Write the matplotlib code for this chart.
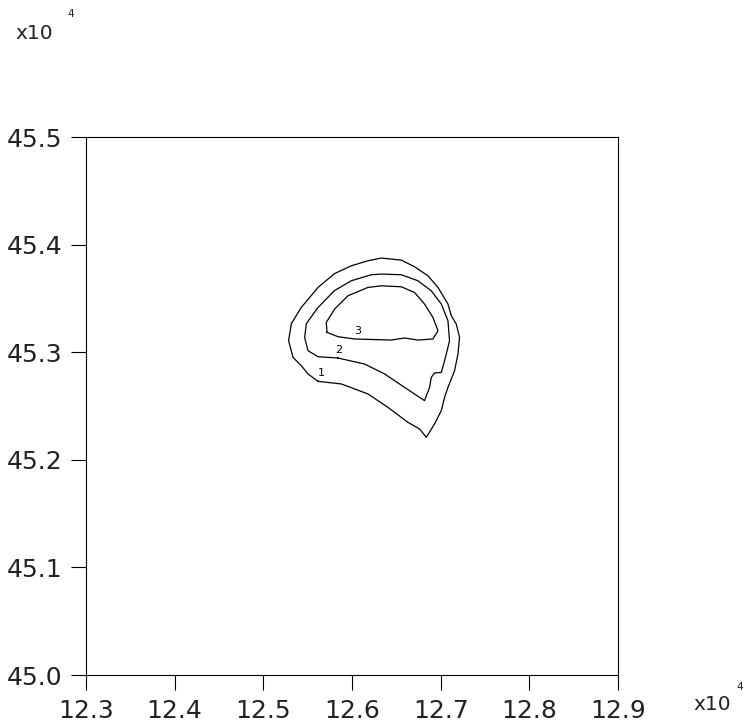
import matplotlib
matplotlib.use('Agg')
import matplotlib.pyplot as plt

plt.rcParams['font.family'] = ['DejaVu Sans']

# contour levels (x, y in units of 1e4)
levels = ['1', '2', '3']

c1_x = [12.5617, 12.5879, 12.6180, 12.6406, 12.6631, 12.6762, 12.6838, 12.6931, 12.7007,
        12.7044, 12.7082, 12.7157, 12.7195, 12.7213, 12.7176, 12.7120, 12.7082, 12.6970,
        12.6857, 12.6706, 12.6556, 12.6330, 12.6180, 12.5992, 12.5800, 12.5617, 12.5428,
        12.5316, 12.5285, 12.5335, 12.5428, 12.5504]
c1_y = [45.2729, 45.2705, 45.2612, 45.2487, 45.2348, 45.2287, 45.2209, 45.2333, 45.2457,
        45.2580, 45.2673, 45.2828, 45.2983, 45.3137, 45.3262, 45.3339, 45.3448, 45.3602,
        45.3710, 45.3794, 45.3856, 45.3875, 45.3850, 45.3803, 45.3729, 45.3602, 45.3416,
        45.3265, 45.3107, 45.2952, 45.2875, 45.2798]

c2_x = [12.5842, 12.6142, 12.6368, 12.6593, 12.6818, 12.6875, 12.6894, 12.6931, 12.7007,
        12.7044, 12.7082, 12.7100, 12.7082, 12.7007, 12.6894, 12.6744, 12.6556, 12.6330,
        12.6218, 12.5992, 12.5800, 12.5617, 12.5485, 12.5466, 12.5504, 12.5617]
c2_y = [45.2946, 45.2890, 45.2798, 45.2673, 45.2550, 45.2673, 45.2766, 45.2807, 45.2812,
        45.2921, 45.3045, 45.3107, 45.3293, 45.3448, 45.3571, 45.3664, 45.3720, 45.3726,
        45.3720, 45.3664, 45.3571, 45.3416, 45.3265, 45.3137, 45.3014, 45.2958]

c3_x = [12.5718, 12.5842, 12.6029, 12.6443, 12.6593, 12.6744, 12.6913, 12.6970, 12.6913,
        12.6818, 12.6706, 12.6556, 12.6330, 12.6180, 12.5955, 12.5804, 12.5710]
c3_y = [45.3184, 45.3144, 45.3123, 45.3113, 45.3132, 45.3113, 45.3123, 45.3200, 45.3323,
        45.3448, 45.3555, 45.3608, 45.3617, 45.3602, 45.3525, 45.3401, 45.3277]

# where the level numbers sit on the lines
label_x = [12.5654, 12.5845, 12.6060]
label_y = [45.2763, 45.2977, 45.3153]

xticks = [12.3, 12.4, 12.5, 12.6, 12.7, 12.8, 12.9]
yticks = [45.0, 45.1, 45.2, 45.3, 45.4, 45.5]

fig = plt.figure(figsize=(7.46, 7.28), dpi=100)
ax = fig.add_axes([0.1153, 0.0728, 0.7131, 0.739])

for xs, ys in [(c1_x, c1_y), (c2_x, c2_y), (c3_x, c3_y)]:
    ax.plot(xs + xs[:1], ys + ys[:1], color='black', lw=0.9)

for lab, lx, ly in zip(levels, label_x, label_y):
    ax.text(lx, ly, lab, fontsize=8, ha='center', va='bottom')

ax.set_xlim(12.3, 12.9)
ax.set_ylim(45.0, 45.5)
ax.set_xticks(xticks)
ax.set_yticks(yticks)
ax.set_xticklabels([f'{v:.1f}' for v in xticks])
ax.set_yticklabels([f'{v:.1f}' for v in yticks])
ax.tick_params(direction='out', length=11, width=0.8, labelsize=18, pad=6,
               labelcolor='#222222')
for s in ax.spines.values():
    s.set_linewidth(0.8)

# scale factors
fig.text(15 / 746, 1 - 39 / 728, 'x10', fontsize=14.5, color='#222222')
fig.text(67 / 746, 1 - 17 / 728, '4', fontsize=7.5, color='#222222')
fig.text(693 / 746, 1 - 710 / 728, 'x10', fontsize=14.5, color='#222222')
fig.text(736 / 746, 1 - 690 / 728, '4', fontsize=7.5, color='#222222')

fig.savefig('out.png', dpi=100)
